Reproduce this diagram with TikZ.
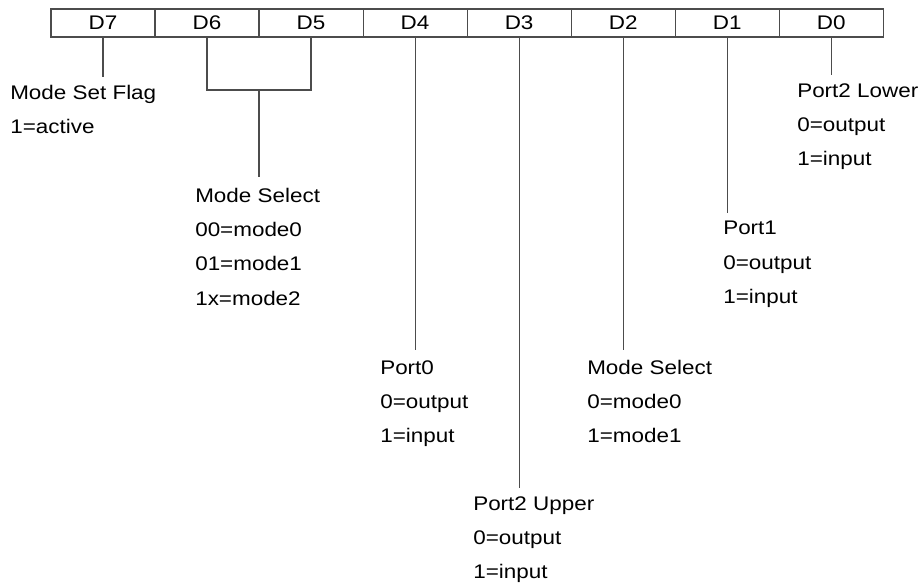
\documentclass[tikz,border=0pt]{standalone}
\usepackage{fontspec}
\setmainfont{Liberation Sans}[FakeStretch=1.14]
\usetikzlibrary{positioning}
\tikzset{
  bit/.style={draw=black!70, line width=0.8pt, minimum width=2.6cm, minimum height=0.7cm,
    outer sep=0pt, inner sep=0pt, font=\fontsize{14}{16}\selectfont},
  field/.style={anchor=north west, align=left, inner sep=0pt, font=\fontsize{14}{24.3}\selectfont},
  lead/.style={draw=black!70, line width=0.8pt},
}
\begin{document}
\begin{tikzpicture}[x=0.025cm,y=-0.025cm]
\useasboundingbox (0,0) rectangle (924,585);
% the register, D7 ... D0
\node[bit] (d7) at (103,23) {D7};
\node[bit,right=0pt of d7] (d6) {D6};
\node[bit,right=0pt of d6] (d5) {D5};
\node[bit,right=0pt of d5] (d4) {D4};
\node[bit,right=0pt of d4] (d3) {D3};
\node[bit,right=0pt of d3] (d2) {D2};
\node[bit,right=0pt of d2] (d1) {D1};
\node[bit,right=0pt of d1] (d0) {D0};
% the fields
\node[field] (flag) at (10,85) {Mode Set Flag\\1=active};
\node[field] (selA) at (195,188) {Mode Select\\00=mode0\\01=mode1\\1x=mode2};
\node[field] (port0) at (380,360) {Port0\\0=output\\1=input};
\node[field] (selB) at (587,360) {Mode Select\\0=mode0\\1=mode1};
\node[field] (upper) at (473,496) {Port2 Upper\\0=output\\1=input};
\node[field] (port1) at (723,221) {Port1\\0=output\\1=input};
\node[field] (lower) at (797,83) {Port2 Lower\\0=output\\1=input};
% leads
\path (d6.south east) ++(0,53) coordinate (join);
\draw[lead] (d6.south) |- (join) -| (d5.south);
\draw[lead,shorten >=8pt] (join) -- (join |- selA.north);
\draw[lead,shorten >=6pt] (d7.south) -- (d7.south |- flag.north);
\draw[lead,shorten >=7pt] (d4.south) -- (d4.south |- port0.north);
\draw[lead,shorten >=6pt] (d3.south) -- (d3.south |- upper.north);
\draw[lead,shorten >=7pt] (d2.south) -- (d2.south |- selB.north);
\draw[lead,shorten >=6pt] (d1.south) -- (d1.south |- port1.north);
\draw[lead,shorten >=6pt] (d0.south) -- (d0.south |- lower.north);
\end{tikzpicture}
\end{document}
